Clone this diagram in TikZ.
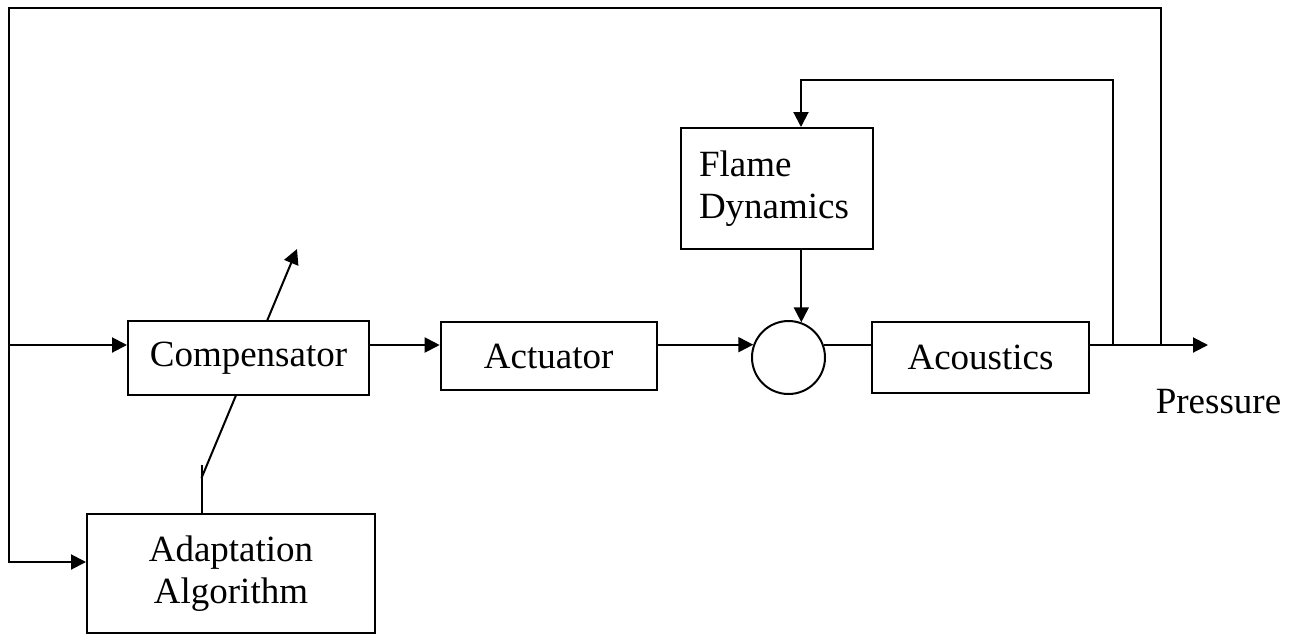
\documentclass[tikz,border=0pt]{standalone}
\usepackage{fontspec}
\setmainfont{Liberation Serif}
\usetikzlibrary{arrows.meta}

\begin{document}
\begin{tikzpicture}[x=0.5pt,y=-0.5pt,line width=1pt,
  block/.style={draw,fill=white,rectangle,inner sep=0pt,font=\fontsize{18.5}{21.3}\selectfont},
  sig/.style={-{Triangle[length=7.5pt,width=7.5pt]}}]
\useasboundingbox (0,0) rectangle (1298,634);

% Adjustment arrow (under the compensator)
\coordinate (s0) at (201.5,465);
\coordinate (s1) at (201.5,478);
\coordinate (s2) at (297,249);
\draw[sig] (s1) -- (s2);

% Blocks
\node[block,minimum width=120.5pt,minimum height=37pt] (comp) at (248.5,358) {Compensator};
\node[block,minimum width=108pt,minimum height=34.25pt] (act) at (548.7,356) {Actuator};
\node[block,circle,minimum size=36.5pt] (sum) at (788.5,357.5) {};
\node[block,minimum width=108.5pt,minimum height=35.75pt] (acou) at (980.5,357.5) {Acoustics};
\node[block,minimum width=96pt,minimum height=60.5pt,inner xsep=9pt,text width=78pt,align=left] (flame) at (777,188.5) {Flame\\Dynamics};
\node[block,minimum width=144pt,minimum height=59.5pt,align=center] (adapt) at (231,573.5) {Adaptation\\Algorithm};
\node[font=\fontsize{18.5}{21.3}\selectfont,anchor=base,inner sep=0pt] (plabel) at (1218.5,413) {Pressure};

% Points on the lines
\coordinate (in) at (9,345);
\coordinate (tap1) at (1113,345);
\coordinate (tap2) at (1161,345);
\coordinate (out) at (1208,345);
\coordinate (fb) at (801,80);
\coordinate (topL) at (9,8);
\coordinate (ay) at (9,562);

% Forward path
\draw[sig] (in) -- (in -| comp.west);
\draw[sig] (in -| comp.east) -- (in -| act.west);
\draw[sig] (act.east |- sum.160) -- (sum.160);
\draw (sum.20) -- (sum.20 -| acou.west);
\draw[sig] (in -| acou.east) -- (out);

% Flame loop
\draw[sig] (tap1) |- (fb) -- (fb |- flame.north);
\draw[sig] (sum.70 |- flame.south) -- (sum.70);

% Outer loop
\draw[sig] (tap2) |- (topL) -- (ay) -- (ay -| adapt.west);
\draw (s0 |- adapt.north) -- (s0);
\end{tikzpicture}
\end{document}
